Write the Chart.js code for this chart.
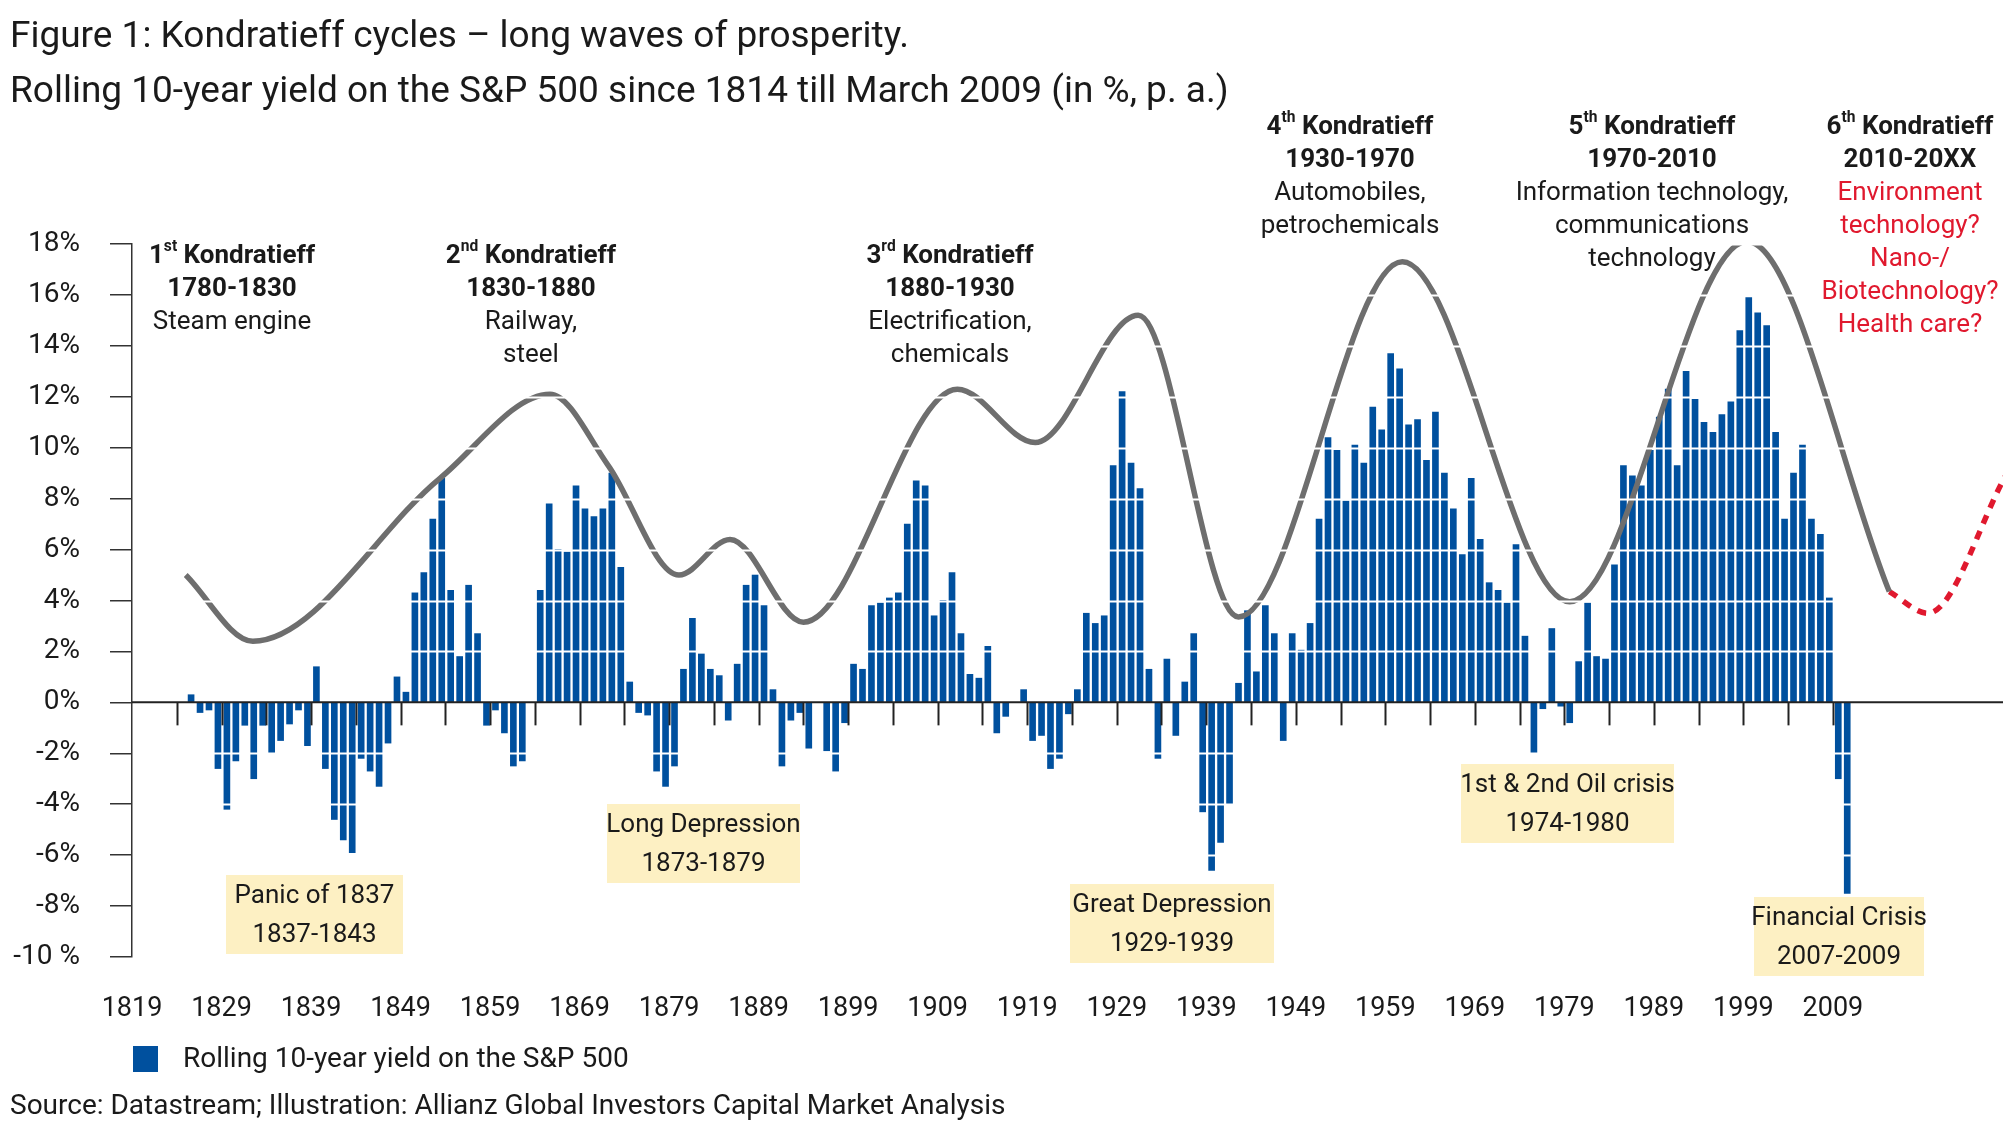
<!DOCTYPE html>
<html>
<head>
<meta charset="utf-8">
<script src="https://cdn.jsdelivr.net/npm/chart.js@4.4.1/dist/chart.umd.min.js"></script>
<style>
  html, body { margin: 0; padding: 0; background: #fff; }
  #wrap { position: relative; width: 2016px; height: 1139px; }
</style>
</head>
<body>
<div id="wrap"><canvas id="kondratieffChart" width="2016" height="1139"></canvas></div>
<script>
// ============================================================================
// DATA
// ============================================================================

const FIRST_YEAR = 1825;
// Rolling 10-year yield on the S&P 500 (% p.a.), one value per year from 1825 to 2010
const yields = [
    0.3, -0.4, -0.3, -2.6, -4.2, -2.3, -0.9, -3.0, -0.9, -2.0,     // 1825-1834
    -1.5, -0.85, -0.3, -1.7, 1.4, -2.6, -4.6, -5.4, -5.9, -2.2,    // 1835-1844
    -2.7, -3.3, -1.6, 1.0, 0.4, 4.3, 5.1, 7.2, 8.8, 4.4,           // 1845-1854
    1.8, 4.6, 2.7, -0.9, -0.3, -1.2, -2.5, -2.3, 0, 4.4,           // 1855-1864
    7.8, 6.0, 5.9, 8.5, 7.6, 7.3, 7.6, 9.0, 5.3, 0.8,              // 1865-1874
    -0.4, -0.5, -2.7, -3.3, -2.5, 1.3, 3.3, 1.9, 1.3, 1.05,        // 1875-1884
    -0.7, 1.5, 4.6, 5.0, 3.8, 0.5, -2.5, -0.7, -0.4, -1.8,         // 1885-1894
    0, -1.9, -2.7, -0.8, 1.5, 1.3, 3.8, 3.9, 4.1, 4.3,             // 1895-1904
    7.0, 8.7, 8.5, 3.4, 4.0, 5.1, 2.7, 1.1, 0.95, 2.2,             // 1905-1914
    -1.2, -0.55, 0, 0.5, -1.5, -1.3, -2.6, -2.2, -0.45, 0.5,       // 1915-1924
    3.5, 3.1, 3.4, 9.3, 12.2, 9.4, 8.4, 1.3, -2.2, 1.7,            // 1925-1934
    -1.3, 0.8, 2.7, -4.3, -6.6, -5.5, -4.0, 0.75, 3.6, 1.2,        // 1935-1944
    3.8, 2.7, -1.5, 2.7, 2.05, 3.1, 7.2, 10.4, 9.9, 7.9,           // 1945-1954
    10.1, 9.4, 11.6, 10.7, 13.7, 13.1, 10.9, 11.1, 9.5, 11.4,      // 1955-1964
    9.0, 7.6, 5.8, 8.8, 6.4, 4.7, 4.4, 3.9, 6.2, 2.6,              // 1965-1974
    -2.0, -0.25, 2.9, -0.15, -0.8, 1.6, 3.9, 1.8, 1.7, 5.4,        // 1975-1984
    9.3, 8.9, 8.5, 9.9, 11.2, 12.3, 9.3, 13.0, 11.9, 11.0,         // 1985-1994
    10.6, 11.3, 11.8, 14.6, 15.9, 15.3, 14.8, 10.6, 7.2, 9.0,      // 1995-2004
    10.1, 7.2, 6.6, 4.1, -3.0, -7.5                                // 2005-2010
];
const years = yields.map((v, i) => FIRST_YEAR + i);

// Long wave (Kondratieff) curve
const waveYears  = [1825, 1832.5, 1853.4, 1865.7, 1872.2, 1880.1, 1885.8, 1894, 1911.2, 1919.9, 1931.4, 1942.6, 1960.9, 1979.6, 1999.4, 2015.3];
const waveValues = [5.0, 2.4, 8.8, 12.1, 9.3, 5.0, 6.4, 3.15, 12.3, 10.2, 15.2, 3.35, 17.3, 3.95, 18.1, 4.35];

// Forecast (red dashed) part
const forecastYears  = [2015.3, 2019.6, 2028.3];
const forecastValues = [4.35, 3.5, 8.9];

const yTicks = [-10, -8, -6, -4, -2, 0, 2, 4, 6, 8, 10, 12, 14, 16, 18];
const xTickLabels = [1819, 1829, 1839, 1849, 1859, 1869, 1879, 1889, 1899, 1909, 1919, 1929, 1939, 1949, 1959, 1969, 1979, 1989, 1999, 2009];

// ============================================================================
// STYLE
// ============================================================================

const BLUE = '#00509e';
const GREY = '#6e6e6e';
const RED = '#e0192e';
const BOX = '#fdf0c3';
const FONT = "Roboto, 'Open Sans', sans-serif";

// ============================================================================
// OVERLAY PLUGIN (zero line, minor ticks, white bands, texts)
// ============================================================================

function drawSupLine(ctx, parts, cx, y, size, bold, color) {
    // parts: [[text, isSup], ...]
    ctx.fillStyle = color;
    let total = 0;
    parts.forEach(p => {
        ctx.font = (bold ? 'bold ' : '') + (p[1] ? size * 0.6 : size) + 'px ' + FONT;
        total += ctx.measureText(p[0]).width;
    });
    let x = cx - total / 2;
    ctx.textAlign = 'left';
    parts.forEach(p => {
        ctx.font = (bold ? 'bold ' : '') + (p[1] ? size * 0.6 : size) + 'px ' + FONT;
        ctx.fillText(p[0], x, p[1] ? y - size * 0.35 : y);
        x += ctx.measureText(p[0]).width;
    });
}

function drawBlock(ctx, cx, y0, lines, size, lh) {
    lines.forEach((l, i) => {
        drawSupLine(ctx, l.parts, cx, y0 + i * lh, size, l.bold, l.color || '#1a1a1a');
    });
}

const overlayPlugin = {
    id: 'overlay',
    afterDatasetsDraw(chart) {
        const ctx = chart.ctx;
        const x = chart.scales.x, y = chart.scales.y;
        const area = chart.chartArea;
        ctx.save();
        // white bands cutting the bars
        ctx.strokeStyle = '#ffffff';
        ctx.lineWidth = 2;
        yTicks.forEach(t => {
            if (t === 0) return;
            const py = Math.round(y.getPixelForValue(t)) + 0.5;
            ctx.beginPath();
            ctx.moveTo(area.left + 1, py);
            ctx.lineTo(x.getPixelForValue(2011), py);
            ctx.stroke();
        });
        // zero line
        const y0 = y.getPixelForValue(0);
        ctx.strokeStyle = '#222';
        ctx.lineWidth = 2;
        ctx.beginPath();
        ctx.moveTo(area.left, y0);
        ctx.lineTo(area.right, y0);
        ctx.stroke();
        // 5-year ticks below zero line
        for (let yr = 1824; yr <= 2009; yr += 5) {
            const px = Math.round(x.getPixelForValue(yr)) + 0.5;
            ctx.beginPath();
            ctx.moveTo(px, y0);
            ctx.lineTo(px, y0 + 23);
            ctx.stroke();
        }
        ctx.restore();
    },
    afterDraw(chart) {
        const ctx = chart.ctx;
        ctx.save();
        ctx.textBaseline = 'middle';

        // title
        ctx.fillStyle = '#1a1a1a';
        ctx.textAlign = 'left';
        ctx.font = '37px ' + FONT;
        ctx.fillText('Figure 1: Kondratieff cycles \u2013 long waves of prosperity.', 10, 38);
        ctx.fillText('Rolling 10-year yield on the S&P 500 since 1814 till March 2009 (in %, p. a.)', 10, 93);

        // Kondratieff labels
        const S = 26, LH = 33;
        drawBlock(ctx, 232, 256, [
            { parts: [['1', false], ['st', true], [' Kondratieff', false]], bold: true },
            { parts: [['1780-1830', false]], bold: true },
            { parts: [['Steam engine', false]] }
        ], S, LH);
        drawBlock(ctx, 531, 256, [
            { parts: [['2', false], ['nd', true], [' Kondratieff', false]], bold: true },
            { parts: [['1830-1880', false]], bold: true },
            { parts: [['Railway,', false]] },
            { parts: [['steel', false]] }
        ], S, LH);
        drawBlock(ctx, 950, 256, [
            { parts: [['3', false], ['rd', true], [' Kondratieff', false]], bold: true },
            { parts: [['1880-1930', false]], bold: true },
            { parts: [['Electrification,', false]] },
            { parts: [['chemicals', false]] }
        ], S, LH);
        drawBlock(ctx, 1350, 127, [
            { parts: [['4', false], ['th', true], [' Kondratieff', false]], bold: true },
            { parts: [['1930-1970', false]], bold: true },
            { parts: [['Automobiles,', false]] },
            { parts: [['petrochemicals', false]] }
        ], S, LH);
        drawBlock(ctx, 1652, 127, [
            { parts: [['5', false], ['th', true], [' Kondratieff', false]], bold: true },
            { parts: [['1970-2010', false]], bold: true },
            { parts: [['Information technology,', false]] },
            { parts: [['communications', false]] },
            { parts: [['technology', false]] }
        ], S, LH);
        drawBlock(ctx, 1910, 127, [
            { parts: [['6', false], ['th', true], [' Kondratieff', false]], bold: true },
            { parts: [['2010-20XX', false]], bold: true },
            { parts: [['Environment', false]], color: RED },
            { parts: [['technology?', false]], color: RED },
            { parts: [['Nano-/', false]], color: RED },
            { parts: [['Biotechnology?', false]], color: RED },
            { parts: [['Health care?', false]], color: RED }
        ], S, LH);

        // crisis boxes [left, top, width, height, line1, line2]
        const boxes = [
            [226, 875, 177, 79, 'Panic of 1837', '1837-1843'],
            [607, 804, 193, 79, 'Long Depression', '1873-1879'],
            [1070, 884, 204, 79, 'Great Depression', '1929-1939'],
            [1461, 764, 213, 79, '1st & 2nd Oil crisis', '1974-1980'],
            [1754, 897, 170, 79, 'Financial Crisis', '2007-2009']
        ];
        boxes.forEach(b => {
            ctx.fillStyle = BOX;
            ctx.fillRect(b[0], b[1], b[2], b[3]);
            ctx.fillStyle = '#1a1a1a';
            ctx.textAlign = 'center';
            ctx.font = S + 'px ' + FONT;
            ctx.fillText(b[4], b[0] + b[2] / 2, b[1] + 21);
            ctx.fillText(b[5], b[0] + b[2] / 2, b[1] + 60);
        });

        // legend
        ctx.fillStyle = BLUE;
        ctx.fillRect(133, 1046, 25, 26);
        ctx.fillStyle = '#1a1a1a';
        ctx.textAlign = 'left';
        ctx.font = '28px ' + FONT;
        ctx.fillText('Rolling 10-year yield on the S&P 500', 183, 1060);

        // source
        ctx.fillText('Source: Datastream; Illustration: Allianz Global Investors Capital Market Analysis', 10, 1107);
        ctx.restore();
    }
};

// ============================================================================
// CHART
// ============================================================================

function initChart() {
    const ctx = document.getElementById('kondratieffChart');

    new Chart(ctx, {
        type: 'bar',
        data: {
            datasets: [{
                type: 'line',
                data: waveYears.map((yr, i) => ({ x: yr, y: waveValues[i] })),
                borderColor: GREY,
                borderWidth: 5.5,
                pointRadius: 0,
                cubicInterpolationMode: 'monotone',
                fill: false,
                order: 0
            }, {
                type: 'line',
                data: forecastYears.map((yr, i) => ({ x: yr, y: forecastValues[i] })),
                borderColor: RED,
                borderWidth: 5.5,
                borderDash: [9, 8],
                pointRadius: 0,
                cubicInterpolationMode: 'monotone',
                fill: false,
                order: 0
            }, {
                label: 'Rolling 10-year yield on the S&P 500',
                data: years.map((yr, i) => ({ x: yr + 0.6, y: yields[i] })),
                backgroundColor: BLUE,
                barThickness: 6,
                order: 1
            }]
        },
        options: {
            responsive: false,
            animation: false,
            layout: { padding: { left: 0, right: 13, top: 244, bottom: 0 } },
            plugins: {
                legend: { display: false },
                tooltip: { enabled: false }
            },
            scales: {
                x: {
                    type: 'linear',
                    min: 1819,
                    max: 2028,
                    offset: false,
                    grid: { display: false },
                    border: { display: false },
                    afterBuildTicks: scale => {
                        scale.ticks = xTickLabels.map(v => ({ value: v }));
                    },
                    afterFit: scale => { scale.height = 1139 - 957; },
                    ticks: {
                        autoSkip: false,
                        maxRotation: 0,
                        padding: 28,
                        color: '#1a1a1a',
                        font: { family: FONT, size: 27 },
                        callback: v => String(v)
                    }
                },
                y: {
                    min: -10,
                    max: 18,
                    afterBuildTicks: scale => {
                        scale.ticks = yTicks.map(v => ({ value: v }));
                    },
                    afterFit: scale => { scale.width = 132; },
                    grid: {
                        drawOnChartArea: false,
                        drawTicks: true,
                        tickLength: 22,
                        color: '#333',
                        lineWidth: 1.5
                    },
                    border: { display: true, color: '#333', width: 1.5 },
                    ticks: {
                        padding: 30,
                        color: '#1a1a1a',
                        font: { family: FONT, size: 28 },
                        callback: v => v === -10 ? '-10 %' : v + '%'
                    }
                }
            }
        },
        plugins: [overlayPlugin]
    });
}

initChart();
</script>
</body>
</html>
